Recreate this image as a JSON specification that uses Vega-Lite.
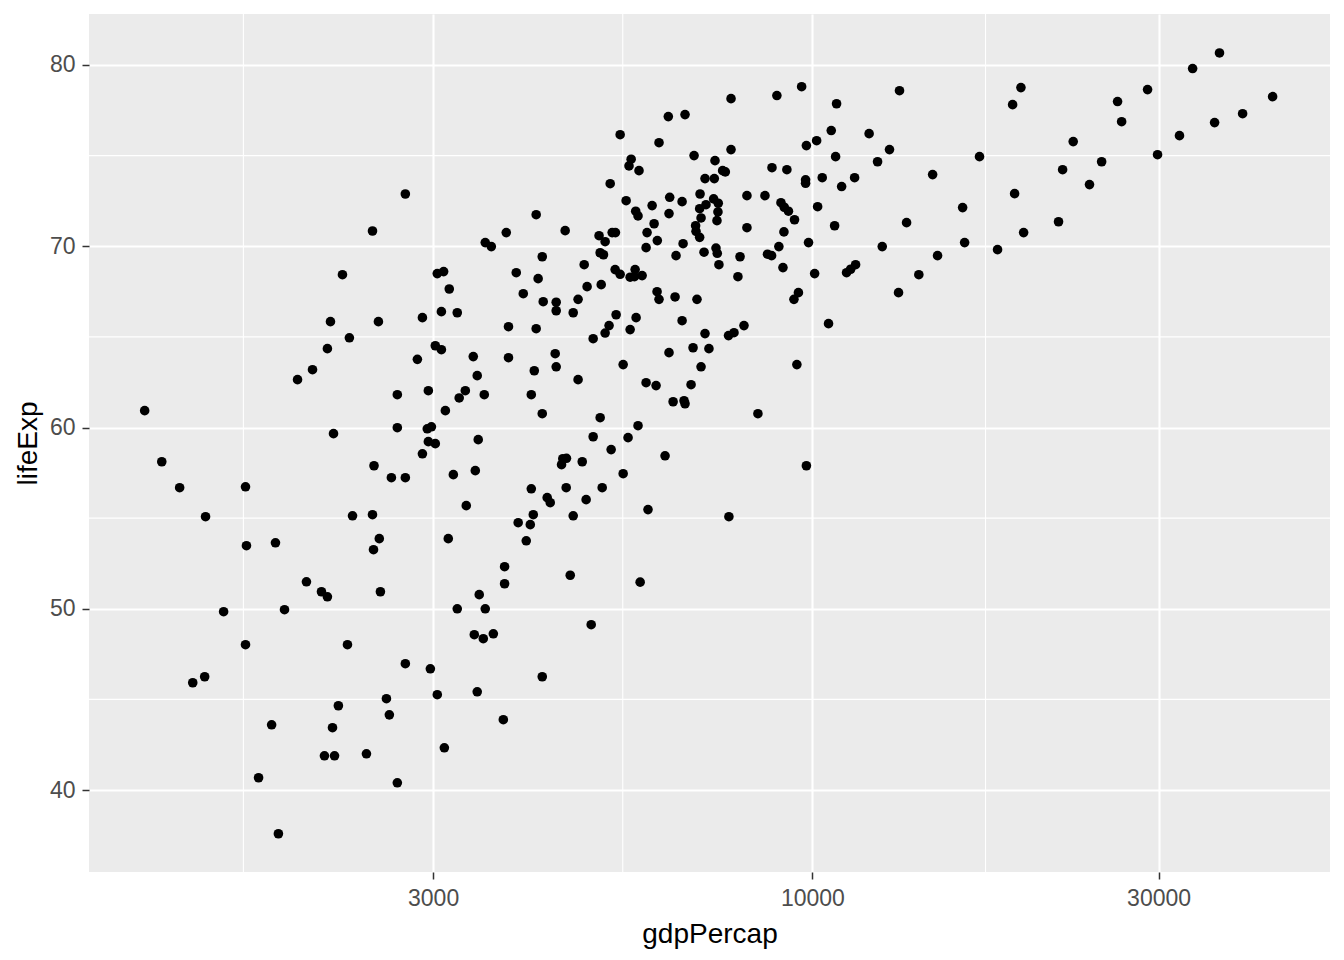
{
  "$schema": "https://vega.github.io/schema/vega-lite/v6.json",
  "width": 1241,
  "height": 858,
  "autosize": {"type": "none"},
  "padding": {"left": 89, "top": 14, "right": 14, "bottom": 88},
  "background": "white",
  "config": {"view": {"fill": "#EBEBEB", "stroke": null}, "font": "Liberation Sans"},
  "layer": [
    {
      "data": {"values": [{"minorX": 1643}, {"minorX": 5477}, {"minorX": 17321}]},
      "mark": {"type": "rule", "color": "white", "strokeWidth": 1.1},
      "encoding": {
        "x": {"field": "minorX", "type": "quantitative", "scale": {"type": "log", "domain": [1006.5, 51690], "nice": false, "zero": false},
          "axis": {
            "values": [3000, 10000, 30000], "format": "d",
            "grid": true, "gridColor": "white", "gridWidth": 2.1,
            "domain": false, "ticks": true, "tickColor": "#333333", "tickSize": 7, "tickWidth": 1.5,
            "labelFont": "Liberation Sans", "labelFontSize": 23, "labelColor": "#4D4D4D", "labelPadding": 8,
            "labelFlush": false, "labelOverlap": false,
            "title": "gdpPercap", "titleFont": "Liberation Sans", "titleFontSize": 28, "titleFontWeight": "normal", "titleColor": "black", "titlePadding": 10
          }}
      }
    },
    {
      "data": {"values": [{"minorY": 45}, {"minorY": 55}, {"minorY": 65}, {"minorY": 75}]},
      "mark": {"type": "rule", "color": "white", "strokeWidth": 1.1},
      "encoding": {
        "y": {"field": "minorY", "type": "quantitative", "scale": {"domain": [35.48, 82.81], "nice": false, "zero": false},
          "axis": {
            "values": [40, 50, 60, 70, 80],
            "grid": true, "gridColor": "white", "gridWidth": 2.1,
            "domain": false, "ticks": true, "tickColor": "#333333", "tickSize": 7, "tickWidth": 1.5,
            "labelFont": "Liberation Sans", "labelFontSize": 23, "labelColor": "#4D4D4D", "labelPadding": 7,
            "labelFlush": false, "labelOverlap": false,
            "title": "lifeExp", "titleFont": "Liberation Sans", "titleFontSize": 28, "titleFontWeight": "normal", "titleColor": "black", "titlePadding": 7
          }}
      }
    },
    {
      "data": {"values": [
{"gdpPercap":2747,"lifeExp":72.88},{"gdpPercap":2475,"lifeExp":70.84},{"gdpPercap":2250,"lifeExp":68.43},{"gdpPercap":3040,"lifeExp":68.49},{"gdpPercap":3102,"lifeExp":68.60},{"gdpPercap":3158,"lifeExp":67.64},{"gdpPercap":3540,"lifeExp":70.20},{"gdpPercap":3609,"lifeExp":69.98},{"gdpPercap":3784,"lifeExp":70.75},
{"gdpPercap":7723,"lifeExp":78.14},{"gdpPercap":8933,"lifeExp":78.31},{"gdpPercap":9663,"lifeExp":78.80},{"gdpPercap":10796,"lifeExp":77.86},{"gdpPercap":13183,"lifeExp":78.58},{"gdpPercap":6329,"lifeExp":77.15},{"gdpPercap":6674,"lifeExp":77.26},{"gdpPercap":5432,"lifeExp":76.15},{"gdpPercap":6145,"lifeExp":75.71},{"gdpPercap":6868,"lifeExp":75.00},
{"gdpPercap":7723,"lifeExp":75.33},{"gdpPercap":7340,"lifeExp":74.72},{"gdpPercap":7520,"lifeExp":74.17},{"gdpPercap":7584,"lifeExp":74.10},{"gdpPercap":7111,"lifeExp":73.73},{"gdpPercap":7324,"lifeExp":73.73},{"gdpPercap":5625,"lifeExp":74.80},{"gdpPercap":5587,"lifeExp":74.43},{"gdpPercap":5767,"lifeExp":74.17},{"gdpPercap":5263,"lifeExp":73.45},
{"gdpPercap":5536,"lifeExp":72.51},{"gdpPercap":6012,"lifeExp":72.24},{"gdpPercap":6357,"lifeExp":72.70},{"gdpPercap":6612,"lifeExp":72.46},{"gdpPercap":7000,"lifeExp":72.88},{"gdpPercap":5707,"lifeExp":71.93},{"gdpPercap":5749,"lifeExp":71.67},{"gdpPercap":6343,"lifeExp":71.80},{"gdpPercap":6050,"lifeExp":71.24},{"gdpPercap":5916,"lifeExp":70.75},
{"gdpPercap":6112,"lifeExp":70.31},{"gdpPercap":5898,"lifeExp":69.92},{"gdpPercap":6633,"lifeExp":70.14},{"gdpPercap":6486,"lifeExp":69.48},{"gdpPercap":7308,"lifeExp":72.61},{"gdpPercap":7416,"lifeExp":72.37},{"gdpPercap":7133,"lifeExp":72.29},{"gdpPercap":6991,"lifeExp":72.07},{"gdpPercap":7409,"lifeExp":71.89},{"gdpPercap":7386,"lifeExp":71.41},
{"gdpPercap":7022,"lifeExp":71.56},{"gdpPercap":6902,"lifeExp":71.13},{"gdpPercap":6911,"lifeExp":70.82},{"gdpPercap":6991,"lifeExp":70.49},{"gdpPercap":7363,"lifeExp":69.90},{"gdpPercap":7393,"lifeExp":69.61},{"gdpPercap":7089,"lifeExp":69.67},{"gdpPercap":7432,"lifeExp":68.98},{"gdpPercap":7947,"lifeExp":69.42},{"gdpPercap":7894,"lifeExp":68.32},
{"gdpPercap":8123,"lifeExp":72.79},{"gdpPercap":8601,"lifeExp":72.79},{"gdpPercap":8795,"lifeExp":74.33},{"gdpPercap":9221,"lifeExp":74.22},{"gdpPercap":8123,"lifeExp":71.02},{"gdpPercap":9049,"lifeExp":72.40},{"gdpPercap":9144,"lifeExp":72.15},{"gdpPercap":9267,"lifeExp":71.93},{"gdpPercap":9447,"lifeExp":71.46},{"gdpPercap":9135,"lifeExp":70.79},
{"gdpPercap":8989,"lifeExp":69.98},{"gdpPercap":8671,"lifeExp":69.56},{"gdpPercap":8784,"lifeExp":69.48},{"gdpPercap":9107,"lifeExp":68.82},{"gdpPercap":9565,"lifeExp":67.44},{"gdpPercap":9430,"lifeExp":67.07},{"gdpPercap":9810,"lifeExp":75.55},{"gdpPercap":10134,"lifeExp":75.82},{"gdpPercap":10615,"lifeExp":76.38},{"gdpPercap":10763,"lifeExp":74.94},
{"gdpPercap":11971,"lifeExp":76.21},{"gdpPercap":12771,"lifeExp":75.33},{"gdpPercap":12296,"lifeExp":74.66},{"gdpPercap":9785,"lifeExp":73.66},{"gdpPercap":9785,"lifeExp":73.47},{"gdpPercap":10316,"lifeExp":73.78},{"gdpPercap":10971,"lifeExp":73.29},{"gdpPercap":11432,"lifeExp":73.78},{"gdpPercap":10166,"lifeExp":72.18},{"gdpPercap":10729,"lifeExp":71.13},
{"gdpPercap":9877,"lifeExp":70.20},{"gdpPercap":10070,"lifeExp":68.49},{"gdpPercap":12480,"lifeExp":69.98},{"gdpPercap":13482,"lifeExp":71.30},{"gdpPercap":11144,"lifeExp":68.54},{"gdpPercap":11289,"lifeExp":68.73},{"gdpPercap":11468,"lifeExp":68.98},{"gdpPercap":13142,"lifeExp":67.44},{"gdpPercap":14017,"lifeExp":68.43},{"gdpPercap":4161,"lifeExp":71.74},
{"gdpPercap":4562,"lifeExp":70.86},{"gdpPercap":3906,"lifeExp":68.54},{"gdpPercap":4242,"lifeExp":69.42},{"gdpPercap":4187,"lifeExp":68.21},{"gdpPercap":3994,"lifeExp":67.38},{"gdpPercap":4255,"lifeExp":66.94},{"gdpPercap":4434,"lifeExp":66.91},{"gdpPercap":4753,"lifeExp":67.07},{"gdpPercap":4891,"lifeExp":67.77},{"gdpPercap":5115,"lifeExp":67.88},
{"gdpPercap":4846,"lifeExp":68.98},{"gdpPercap":5080,"lifeExp":70.58},{"gdpPercap":5179,"lifeExp":70.25},{"gdpPercap":5296,"lifeExp":70.75},{"gdpPercap":5351,"lifeExp":70.75},{"gdpPercap":5098,"lifeExp":69.64},{"gdpPercap":5152,"lifeExp":69.53},{"gdpPercap":5346,"lifeExp":68.71},{"gdpPercap":5432,"lifeExp":68.45},{"gdpPercap":5696,"lifeExp":68.71},
{"gdpPercap":5607,"lifeExp":68.29},{"gdpPercap":5684,"lifeExp":68.32},{"gdpPercap":5824,"lifeExp":68.38},{"gdpPercap":6107,"lifeExp":67.49},{"gdpPercap":6145,"lifeExp":67.07},{"gdpPercap":6466,"lifeExp":67.20},{"gdpPercap":6932,"lifeExp":67.07},
{"gdpPercap":36398,"lifeExp":80.66},{"gdpPercap":33422,"lifeExp":79.80},{"gdpPercap":43082,"lifeExp":78.25},{"gdpPercap":39170,"lifeExp":77.31},{"gdpPercap":35837,"lifeExp":76.82},{"gdpPercap":32059,"lifeExp":76.10},{"gdpPercap":29902,"lifeExp":75.05},{"gdpPercap":28968,"lifeExp":78.64},{"gdpPercap":26337,"lifeExp":77.98},{"gdpPercap":26680,"lifeExp":76.87},
{"gdpPercap":25039,"lifeExp":74.66},{"gdpPercap":24093,"lifeExp":73.40},{"gdpPercap":22123,"lifeExp":74.22},{"gdpPercap":22880,"lifeExp":75.77},{"gdpPercap":21838,"lifeExp":71.35},{"gdpPercap":19547,"lifeExp":70.75},{"gdpPercap":18996,"lifeExp":72.90},{"gdpPercap":19381,"lifeExp":78.75},{"gdpPercap":18877,"lifeExp":77.81},{"gdpPercap":17995,"lifeExp":69.81},
{"gdpPercap":16994,"lifeExp":74.94},{"gdpPercap":16209,"lifeExp":70.20},{"gdpPercap":16107,"lifeExp":72.13},{"gdpPercap":14644,"lifeExp":73.95},{"gdpPercap":14875,"lifeExp":69.48},
{"gdpPercap":2166,"lifeExp":65.84},{"gdpPercap":2522,"lifeExp":65.84},{"gdpPercap":2900,"lifeExp":66.06},{"gdpPercap":3080,"lifeExp":66.39},{"gdpPercap":3239,"lifeExp":66.33},{"gdpPercap":3811,"lifeExp":65.56},{"gdpPercap":2300,"lifeExp":64.95},{"gdpPercap":2145,"lifeExp":64.35},{"gdpPercap":2046,"lifeExp":63.19},{"gdpPercap":1951,"lifeExp":62.64},
{"gdpPercap":3021,"lifeExp":64.51},{"gdpPercap":3080,"lifeExp":64.29},{"gdpPercap":2854,"lifeExp":63.76},{"gdpPercap":3408,"lifeExp":63.91},{"gdpPercap":3811,"lifeExp":63.85},{"gdpPercap":3451,"lifeExp":62.86},{"gdpPercap":2678,"lifeExp":61.81},{"gdpPercap":2955,"lifeExp":62.03},{"gdpPercap":3323,"lifeExp":62.03},{"gdpPercap":3259,"lifeExp":61.63},
{"gdpPercap":3529,"lifeExp":61.81},{"gdpPercap":3119,"lifeExp":60.93},{"gdpPercap":1201,"lifeExp":60.93},{"gdpPercap":2187,"lifeExp":59.66},{"gdpPercap":2678,"lifeExp":59.99},{"gdpPercap":2945,"lifeExp":59.93},{"gdpPercap":2984,"lifeExp":60.04},{"gdpPercap":2955,"lifeExp":59.22},{"gdpPercap":3021,"lifeExp":59.11},{"gdpPercap":2900,"lifeExp":58.55},
{"gdpPercap":3462,"lifeExp":59.33},{"gdpPercap":1268,"lifeExp":58.11},{"gdpPercap":1342,"lifeExp":56.68},{"gdpPercap":1654,"lifeExp":56.73},{"gdpPercap":1457,"lifeExp":55.08},{"gdpPercap":2487,"lifeExp":57.89},{"gdpPercap":2628,"lifeExp":57.23},{"gdpPercap":2747,"lifeExp":57.23},{"gdpPercap":3199,"lifeExp":57.40},{"gdpPercap":3430,"lifeExp":57.62},
{"gdpPercap":3333,"lifeExp":55.69},{"gdpPercap":2323,"lifeExp":55.13},{"gdpPercap":2475,"lifeExp":55.19},{"gdpPercap":2529,"lifeExp":53.87},{"gdpPercap":2483,"lifeExp":53.26},{"gdpPercap":3148,"lifeExp":53.87},{"gdpPercap":1659,"lifeExp":53.48},{"gdpPercap":1819,"lifeExp":53.64},{"gdpPercap":2007,"lifeExp":51.49},{"gdpPercap":3764,"lifeExp":52.32},
{"gdpPercap":3764,"lifeExp":51.38},
{"gdpPercap":4434,"lifeExp":66.44},{"gdpPercap":4680,"lifeExp":66.33},{"gdpPercap":5363,"lifeExp":66.22},{"gdpPercap":5714,"lifeExp":66.06},{"gdpPercap":4161,"lifeExp":65.45},{"gdpPercap":5244,"lifeExp":65.62},{"gdpPercap":5179,"lifeExp":65.21},{"gdpPercap":4986,"lifeExp":64.90},{"gdpPercap":5607,"lifeExp":65.40},{"gdpPercap":6612,"lifeExp":65.89},
{"gdpPercap":7111,"lifeExp":65.18},{"gdpPercap":7662,"lifeExp":65.07},{"gdpPercap":7796,"lifeExp":65.23},{"gdpPercap":8047,"lifeExp":65.62},{"gdpPercap":10524,"lifeExp":65.73},{"gdpPercap":4420,"lifeExp":64.07},{"gdpPercap":4434,"lifeExp":63.35},{"gdpPercap":4136,"lifeExp":63.13},{"gdpPercap":4753,"lifeExp":62.64},{"gdpPercap":4097,"lifeExp":61.81},
{"gdpPercap":4242,"lifeExp":60.76},{"gdpPercap":5098,"lifeExp":60.54},{"gdpPercap":5484,"lifeExp":63.47},{"gdpPercap":6343,"lifeExp":64.13},{"gdpPercap":6846,"lifeExp":64.40},{"gdpPercap":7200,"lifeExp":64.35},{"gdpPercap":7022,"lifeExp":63.35},{"gdpPercap":5898,"lifeExp":62.47},{"gdpPercap":6088,"lifeExp":62.31},{"gdpPercap":6803,"lifeExp":62.36},
{"gdpPercap":6426,"lifeExp":61.42},{"gdpPercap":6653,"lifeExp":61.48},{"gdpPercap":6674,"lifeExp":61.31},{"gdpPercap":8411,"lifeExp":60.76},{"gdpPercap":9518,"lifeExp":63.47},{"gdpPercap":5749,"lifeExp":60.10},{"gdpPercap":4986,"lifeExp":59.49},{"gdpPercap":5570,"lifeExp":59.44},{"gdpPercap":5279,"lifeExp":58.78},{"gdpPercap":6264,"lifeExp":58.44},
{"gdpPercap":9810,"lifeExp":57.89},{"gdpPercap":4528,"lifeExp":58.28},{"gdpPercap":4581,"lifeExp":58.30},{"gdpPercap":4510,"lifeExp":57.95},{"gdpPercap":4816,"lifeExp":58.11},{"gdpPercap":5484,"lifeExp":57.45},{"gdpPercap":4097,"lifeExp":56.62},{"gdpPercap":4577,"lifeExp":56.68},{"gdpPercap":5131,"lifeExp":56.68},{"gdpPercap":4309,"lifeExp":56.13},
{"gdpPercap":4351,"lifeExp":55.85},{"gdpPercap":4876,"lifeExp":56.02},{"gdpPercap":4123,"lifeExp":55.19},{"gdpPercap":3930,"lifeExp":54.75},{"gdpPercap":4084,"lifeExp":54.64},{"gdpPercap":4680,"lifeExp":55.13},{"gdpPercap":5934,"lifeExp":55.47},{"gdpPercap":7671,"lifeExp":55.08},{"gdpPercap":4032,"lifeExp":53.75},{"gdpPercap":4636,"lifeExp":51.85},
{"gdpPercap":5788,"lifeExp":51.47},
{"gdpPercap":2105,"lifeExp":50.94},{"gdpPercap":2145,"lifeExp":50.66},{"gdpPercap":2538,"lifeExp":50.94},{"gdpPercap":3473,"lifeExp":50.78},{"gdpPercap":1543,"lifeExp":49.84},{"gdpPercap":1872,"lifeExp":49.95},{"gdpPercap":3239,"lifeExp":50.00},{"gdpPercap":3540,"lifeExp":50.00},{"gdpPercap":3419,"lifeExp":48.57},{"gdpPercap":3518,"lifeExp":48.35},
{"gdpPercap":3632,"lifeExp":48.62},{"gdpPercap":1654,"lifeExp":48.02},{"gdpPercap":2286,"lifeExp":48.02},{"gdpPercap":2747,"lifeExp":46.97},{"gdpPercap":2974,"lifeExp":46.69},{"gdpPercap":1399,"lifeExp":45.92},{"gdpPercap":1453,"lifeExp":46.25},{"gdpPercap":2587,"lifeExp":45.04},{"gdpPercap":3040,"lifeExp":45.26},{"gdpPercap":3451,"lifeExp":45.42},
{"gdpPercap":2221,"lifeExp":44.65},{"gdpPercap":2611,"lifeExp":44.15},{"gdpPercap":1797,"lifeExp":43.60},{"gdpPercap":2180,"lifeExp":43.44},{"gdpPercap":3749,"lifeExp":43.88},{"gdpPercap":3109,"lifeExp":42.33},{"gdpPercap":2125,"lifeExp":41.89},{"gdpPercap":2194,"lifeExp":41.89},{"gdpPercap":2428,"lifeExp":42.00},{"gdpPercap":1724,"lifeExp":40.68},
{"gdpPercap":2678,"lifeExp":40.40},{"gdpPercap":1836,"lifeExp":37.59},{"gdpPercap":4955,"lifeExp":49.12},{"gdpPercap":4242,"lifeExp":46.25}
      ]},
      "mark": {"type": "circle", "size": 92, "color": "black", "opacity": 1},
      "encoding": {
        "x": {
          "field": "gdpPercap", "type": "quantitative",
          "scale": {"type": "log", "domain": [1006.5, 51690], "nice": false, "zero": false},
          "axis": {
            "values": [3000, 10000, 30000], "format": "d",
            "grid": true, "gridColor": "white", "gridWidth": 2.1,
            "domain": false, "ticks": true, "tickColor": "#333333", "tickSize": 7, "tickWidth": 1.5,
            "labelFont": "Liberation Sans", "labelFontSize": 23, "labelColor": "#4D4D4D", "labelPadding": 8,
            "labelFlush": false, "labelOverlap": false,
            "title": "gdpPercap", "titleFont": "Liberation Sans", "titleFontSize": 28, "titleFontWeight": "normal", "titleColor": "black", "titlePadding": 10
          }
        },
        "y": {
          "field": "lifeExp", "type": "quantitative",
          "scale": {"domain": [35.48, 82.81], "nice": false, "zero": false},
          "axis": {
            "values": [40, 50, 60, 70, 80],
            "grid": true, "gridColor": "white", "gridWidth": 2.1,
            "domain": false, "ticks": true, "tickColor": "#333333", "tickSize": 7, "tickWidth": 1.5,
            "labelFont": "Liberation Sans", "labelFontSize": 23, "labelColor": "#4D4D4D", "labelPadding": 7,
            "labelFlush": false, "labelOverlap": false,
            "title": "lifeExp", "titleFont": "Liberation Sans", "titleFontSize": 28, "titleFontWeight": "normal", "titleColor": "black", "titlePadding": 7
          }
        }
      }
    }
  ]
}
